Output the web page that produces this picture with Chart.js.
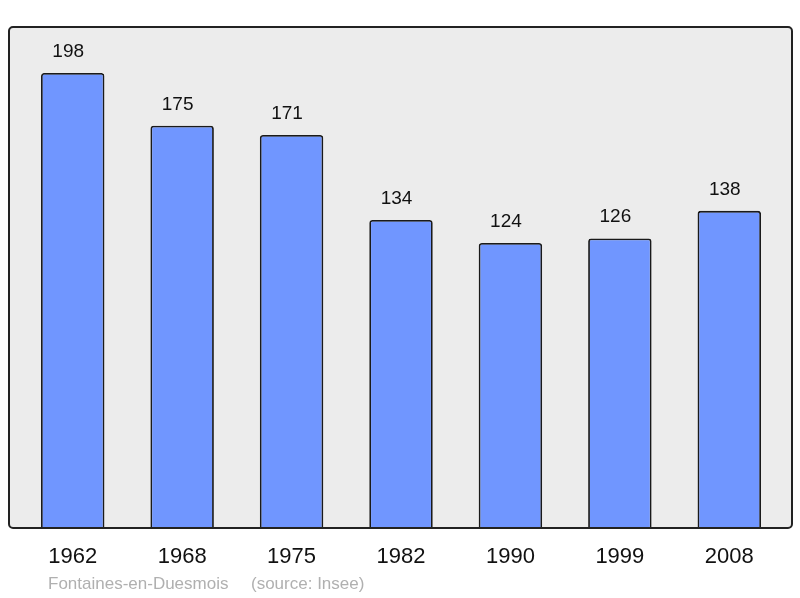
<!DOCTYPE html>
<html>
<head>
<meta charset="utf-8">
<script src="https://cdn.jsdelivr.net/npm/chart.js@4"></script>
<style>
  html,body{margin:0;padding:0;background:#fff;}
  #wrap{width:800px;height:598px;}
</style>
</head>
<body>
<div id="wrap"><canvas id="popChart" width="800" height="598"></canvas></div>
<script>
// données
const years = ['1962','1968','1975','1982','1990','1999','2008'];
const population = [198,175,171,134,124,126,138];
const footerName = 'Fontaines-en-Duesmois';
const footerSource = '(source: Insee)';

const FONT = '"Liberation Sans", Arial, sans-serif';

// cadre gris arrondi derrière les barres
const framePlugin = {
  id:'frame',
  beforeDatasetsDraw(chart){
    const {ctx, chartArea:a} = chart;
    const x = a.left - 9, y = a.top, w = (a.right + 8) - x, h = a.bottom - y;
    ctx.save();
    ctx.beginPath();
    ctx.roundRect(x, y, w, h, 4);
    ctx.fillStyle = '#ececec';
    ctx.fill();
    ctx.restore();
  },
  afterDatasetsDraw(chart){
    const {ctx, chartArea:a} = chart;
    const x = a.left - 9, y = a.top, w = (a.right + 8) - x, h = a.bottom - y;
    ctx.save();
    ctx.beginPath();
    ctx.roundRect(x, y, w, h, 4);
    ctx.lineWidth = 2;
    ctx.strokeStyle = '#222';
    ctx.stroke();
    ctx.restore();
  }
};

// valeurs au-dessus des barres + pied de page
const labelsPlugin = {
  id:'valueLabels',
  afterDatasetsDraw(chart){
    const {ctx} = chart;
    const meta = chart.getDatasetMeta(0);
    ctx.save();
    ctx.font = `19px ${FONT}`;
    ctx.fillStyle = '#111';
    ctx.textAlign = 'center';
    ctx.textBaseline = 'middle';
    meta.data.forEach((bar,i)=>{
      ctx.fillText(String(population[i]), bar.x - 4.5, bar.y - 21.5);
    });
    ctx.font = `17px ${FONT}`;
    ctx.fillStyle = '#b0b0b0';
    ctx.textAlign = 'left';
    ctx.fillText(footerName, 48, 584);
    ctx.fillText(footerSource, 251, 584);
    ctx.restore();
  }
};

new Chart(document.getElementById('popChart').getContext('2d'),{
  type:'bar',
  data:{labels:years, datasets:[{
    data:population,
    backgroundColor:'#7096ff',
    borderColor:'#1a1a1a',
    borderWidth:1.8,
    borderSkipped:'bottom',
    borderRadius:{topLeft:3,topRight:3},
    barPercentage:0.58,
    categoryPercentage:1
  }]},
  options:{
    responsive:false, animation:false,
    layout:{padding:{top:27,left:18,right:16,bottom:0}},
    plugins:{legend:{display:false}, tooltip:{enabled:false}},
    scales:{
      x:{
        grid:{display:false, drawTicks:false},
        border:{display:false},
        ticks:{color:'#111', font:{family:FONT, size:22}, padding:16, maxRotation:0},
        afterFit(scale){ scale.height = 70; }
      },
      y:{display:false, min:0, max:218}
    }
  },
  plugins:[framePlugin, labelsPlugin]
});
</script>
</body>
</html>
